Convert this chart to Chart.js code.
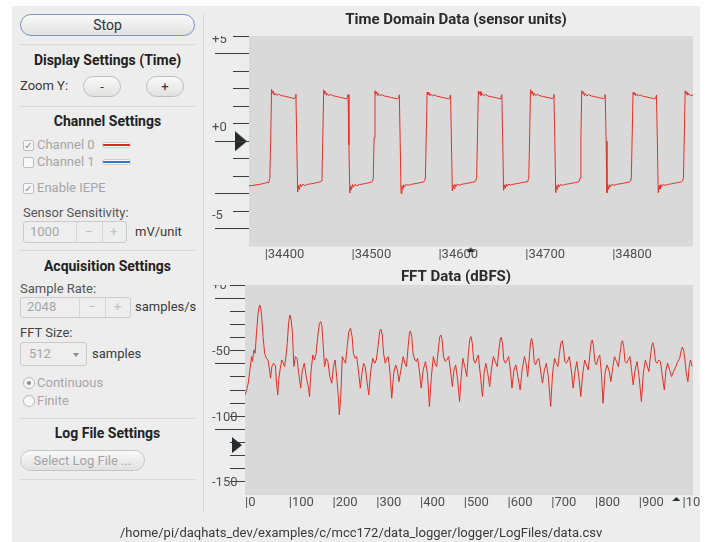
<!DOCTYPE html>
<html><head><meta charset="utf-8">
<script src="https://cdn.jsdelivr.net/npm/chart.js@4.4.0/dist/chart.umd.min.js"></script>
<style>
html,body{margin:0;padding:0;background:#fff;width:711px;height:542px;overflow:hidden;font-family:Roboto,'Noto Sans',sans-serif;}
#win{position:absolute;left:12px;top:6px;width:688px;height:536px;background:#ededed;}
.t{position:absolute;white-space:nowrap;font-size:13px;color:#3a3a3a;line-height:16px;}
.h{position:absolute;left:20px;width:175px;text-align:center;font-weight:bold;font-size:14px;color:#222;line-height:18px;white-space:nowrap;}
.sep{position:absolute;left:20px;width:175px;height:1px;background:#d6d6d6;}
.btn{position:absolute;box-sizing:border-box;border:1px solid #bcbcbc;border-radius:11px;background:linear-gradient(#f9f9f9,#e1e1e1);text-align:center;font-size:13px;color:#333;white-space:nowrap;}
.dis{color:#a6a6a6;}
.cb{position:absolute;box-sizing:border-box;width:11px;height:11px;border:1px solid #bdbdbd;border-radius:2px;background:#f7f7f7;font:10px/9px 'DejaVu Sans';color:#8a8a8a;text-align:center;}
.rd{position:absolute;box-sizing:border-box;width:12px;height:12px;border:1px solid #b8b8b8;border-radius:50%;background:#f7f7f7;}
.sw{position:absolute;box-sizing:border-box;width:29px;height:6px;border:1px solid #cfcfcf;border-radius:3px;}
.spin{position:absolute;box-sizing:border-box;border:1px solid #cbcbcb;border-radius:3px;background:#eeeeee;}
.vl{position:absolute;width:1px;background:#d6d6d6;}
canvas{position:absolute;}
</style></head>
<body>
<div id="win"></div>

<div class="btn" style="left:20px;top:14px;width:175px;height:22px;line-height:20px;font-size:14px;border-color:#7d95bb;">Stop</div>
<div class="sep" style="top:44px"></div>
<div class="h" style="top:51px">Display Settings (Time)</div>
<div class="t" style="left:20px;top:78px">Zoom Y:</div>
<div class="btn" style="left:83px;top:76px;width:38px;height:21px;line-height:19px;">-</div>
<div class="btn" style="left:146px;top:76px;width:38px;height:21px;line-height:19px;">+</div>
<div class="sep" style="top:106px"></div>
<div class="h" style="top:112px">Channel Settings</div>
<div class="cb" style="left:23px;top:140px">✓</div>
<div class="t dis" style="left:37px;top:137px">Channel 0</div>
<div class="sw" style="left:102px;top:142px;background:linear-gradient(#fff 0,#fff 1px,#e0291f 1px,#e0291f 3px,#fff 3px)"></div>
<div class="cb" style="left:23px;top:157px"></div>
<div class="t dis" style="left:37px;top:154px">Channel 1</div>
<div class="sw" style="left:102px;top:159px;background:linear-gradient(#fff 0,#fff 1px,#2c78d4 1px,#2c78d4 3px,#fff 3px)"></div>
<div class="cb" style="left:23px;top:183px">✓</div>
<div class="t dis" style="left:37px;top:180px">Enable IEPE</div>
<div class="t" style="left:23px;top:205px;color:#555">Sensor Sensitivity:</div>
<div class="spin" style="left:23px;top:221px;width:104px;height:22px;"></div>
<div class="vl" style="left:76px;top:222px;height:20px;"></div>
<div class="vl" style="left:102px;top:222px;height:20px;"></div>
<div class="t dis" style="left:30px;top:224px">1000</div>
<div class="t" style="left:85px;top:224px;color:#c0c0c0">−</div>
<div class="t" style="left:110px;top:224px;color:#c0c0c0">+</div>
<div class="t" style="left:135px;top:224px">mV/unit</div>
<div class="sep" style="top:250px"></div>
<div class="h" style="top:257px">Acquisition Settings</div>
<div class="t" style="left:20px;top:281px;color:#555">Sample Rate:</div>
<div class="spin" style="left:20px;top:297px;width:111px;height:21px;"></div>
<div class="vl" style="left:79px;top:298px;height:19px;"></div>
<div class="vl" style="left:105px;top:298px;height:19px;"></div>
<div class="t dis" style="left:27px;top:299px">2048</div>
<div class="t" style="left:88px;top:299px;color:#c0c0c0">−</div>
<div class="t" style="left:114px;top:299px;color:#c0c0c0">+</div>
<div class="t" style="left:135px;top:299px">samples/s</div>
<div class="t" style="left:20px;top:325px;color:#444">FFT Size:</div>
<div class="spin" style="left:20px;top:342px;width:67px;height:24px;"></div>
<div class="t dis" style="left:29px;top:346px">512</div>
<div style="position:absolute;left:73px;top:353px;width:0;height:0;border-left:3px solid transparent;border-right:3px solid transparent;border-top:4px solid #8a8a8a;"></div>
<div class="t" style="left:92px;top:346px">samples</div>
<div class="rd" style="left:23px;top:377px"><div style="position:absolute;left:3px;top:3px;width:4px;height:4px;border-radius:50%;background:#8a8a8a"></div></div>
<div class="t dis" style="left:37px;top:375px">Continuous</div>
<div class="rd" style="left:23px;top:395px"></div>
<div class="t dis" style="left:37px;top:393px">Finite</div>
<div class="sep" style="top:418px"></div>
<div class="h" style="top:424px">Log File Settings</div>
<div class="btn dis" style="left:20px;top:450px;width:125px;height:21px;line-height:19px;border-color:#c6c6c6;color:#a3a3a3">Select Log File ...</div>
<div class="sep" style="top:479px"></div>
<div class="vl" style="left:203px;top:13px;height:498px;"></div>

<canvas id="timeChart" width="488" height="258" style="left:212px;top:6px;"></canvas>
<canvas id="fftChart" width="488" height="278" style="left:212px;top:264px;"></canvas>

<div class="t" style="left:120px;top:525px;font-size:13px;color:#3a3a3a">/home/pi/daqhats_dev/examples/c/mcc172/data_logger/logger/LogFiles/data.csv</div>

<script>
// ---------- Time domain data ----------
const timeTitle = 'Time Domain Data (sensor units)';
const timeRange = [34382, 34893];
const timeYRange = [-7, 5];
const timeXTicks = [34400, 34500, 34600, 34700, 34800];
const timeYTicks = [5, 4, 3, 2, 1, 0, -1, -2, -3, -4, -5, -6];
const timeYLabelled = [5, 0, -5];
const timeLongTicks = [4, -1, -4, -6];
const timeLevel = -1;
const timeCursor = 34637;
const timePoints = [
[34382,-3.55],[34386,-3.52],[34390,-3.49],[34394,-3.46],[34398,-3.42],[34401,-3.38],[34403,-3.34],[34404,-3.36],[34405,-3.27],[34406,-3.12],
[34407,-0.7],
[34408,1.96],[34409,1.74],[34410,1.86],[34411,1.63],[34412,1.75],[34414,1.61],[34416,1.69],[34419,1.6],[34423,1.57],[34427,1.52],[34431,1.47],[34434,1.43],[34435,1.5],[34436,1.68],
[34437,-1.1],
[34438,-3.9],[34439,-3.52],[34440,-3.74],[34441,-3.46],[34442,-3.6],[34444,-3.45],[34446,-3.53],[34449,-3.46],[34453,-3.43],[34457,-3.39],[34461,-3.35],[34464,-3.32],[34465,-3.26],[34466,-3.1],
[34467,-0.6],
[34468,1.93],[34469,1.7],[34470,1.84],[34471,1.62],[34472,1.73],[34474,1.6],[34476,1.67],[34479,1.59],[34483,1.55],[34487,1.5],[34491,1.46],[34494,1.42],[34495,1.49],[34496,1.66],
[34497,-1.2],
[34498,-3.95],[34499,-3.55],[34500,-3.76],[34501,-3.47],[34502,-3.62],[34504,-3.46],[34506,-3.54],[34509,-3.47],[34513,-3.44],[34517,-3.4],[34520,-3.36],[34523,-3.33],[34524,-3.27],[34525,-3.12],
[34526,-0.8],
[34527,1.88],[34528,1.68],[34529,1.82],[34530,1.6],[34531,1.72],[34533,1.59],[34535,1.66],[34538,1.58],[34542,1.54],[34546,1.49],[34550,1.45],[34553,1.41],[34554,1.48],[34555,1.65],
[34556,-1.0],
[34557,-3.98],[34558,-3.54],[34559,-3.75],[34560,-3.48],[34561,-3.6],[34563,-3.45],[34565,-3.52],[34568,-3.46],[34572,-3.43],[34576,-3.39],[34580,-3.35],[34583,-3.32],[34584,-3.25],[34585,-3.1],
[34586,-0.7],
[34587,1.8],[34588,1.66],[34589,1.78],[34590,1.6],[34591,1.7],[34593,1.58],[34595,1.65],[34598,1.57],[34602,1.53],[34606,1.48],[34610,1.44],[34612,1.41],[34613,1.47],[34614,1.64],
[34615,-1.1],
[34616,-3.83],[34617,-3.5],[34618,-3.7],[34619,-3.46],[34620,-3.58],[34622,-3.44],[34624,-3.51],[34627,-3.45],[34631,-3.42],[34635,-3.38],[34639,-3.34],[34642,-3.31],[34643,-3.24],[34644,-3.08],
[34645,-0.6],
[34646,1.86],[34647,1.69],[34648,1.83],[34649,1.61],[34650,1.73],[34652,1.6],[34654,1.67],[34657,1.58],[34661,1.54],[34665,1.49],[34669,1.45],[34671,1.42],[34672,1.48],[34673,1.66],
[34674,-1.0],
[34675,-3.8],[34676,-3.49],[34677,-3.68],[34678,-3.45],[34679,-3.57],[34681,-3.44],[34683,-3.5],[34686,-3.45],[34690,-3.42],[34694,-3.38],[34698,-3.34],[34702,-3.31],[34703,-3.24],[34704,-3.08],
[34705,-0.7],
[34706,1.95],[34707,1.72],[34708,1.85],[34709,1.62],[34710,1.74],[34712,1.6],[34714,1.68],[34717,1.59],[34721,1.55],[34725,1.5],[34729,1.46],[34731,1.42],[34732,1.49],[34733,1.67],
[34734,-1.1],
[34735,-3.93],[34736,-3.53],[34737,-3.74],[34738,-3.47],[34739,-3.6],[34741,-3.45],[34743,-3.52],[34746,-3.46],[34750,-3.43],[34754,-3.39],[34758,-3.35],[34761,-3.32],[34762,-3.26],[34763,-3.1],
[34764,-0.7],
[34765,1.88],[34766,1.7],[34767,1.82],[34768,1.61],[34769,1.72],[34771,1.59],[34773,1.66],[34776,1.58],[34780,1.54],[34784,1.49],[34788,1.45],[34790,1.42],[34791,1.48],[34792,1.66],
[34793,-1.0],
[34794,-3.94],[34795,-3.52],[34796,-3.74],[34797,-3.47],[34798,-3.6],[34800,-3.45],[34802,-3.52],[34805,-3.46],[34809,-3.43],[34813,-3.39],[34817,-3.35],[34820,-3.32],[34821,-3.26],[34822,-3.1],
[34823,-0.7],
[34824,1.78],[34825,1.66],[34826,1.76],[34827,1.6],[34828,1.7],[34830,1.58],[34832,1.65],[34835,1.57],[34839,1.53],[34843,1.48],[34847,1.44],[34849,1.41],[34850,1.47],[34851,1.64],
[34852,-1.1],
[34853,-3.93],[34854,-3.53],[34855,-3.73],[34856,-3.47],[34857,-3.6],[34859,-3.45],[34861,-3.52],[34864,-3.46],[34868,-3.43],[34872,-3.39],[34876,-3.35],[34879,-3.33],[34880,-3.31],[34881,-3.25],[34882,-3.09],
[34883,-0.7],
[34884,1.88],[34885,1.7],[34886,1.82],[34887,1.62],[34888,1.72],[34890,1.6],[34893,1.64]
];

// ---------- FFT data ----------
const fftTitle = 'FFT Data (dBFS)';
const fftRange = [0, 1024];
const fftYRange = [-160, 0];
const fftXTicks = [0, 100, 200, 300, 400, 500, 600, 700, 800, 900, 1000];
const fftYTicks = [0, -10, -20, -30, -40, -50, -60, -70, -80, -90, -100, -110, -120, -130, -140, -150];
const fftYLabelled = [0, -50, -100, -150];
const fftLongTicks = [-10, -60, -110];
const fftLevel = -122;
const fftCursor = 986;
const fftPoints = [
[0,-83.7],[3.7,-79.9],[7.5,-74.8],[11.2,-64.7],[15,-54.5],[17.2,-58.3],[20.2,-49.5],[23.2,-52],[26.2,-36.8],[29.9,-21.6],[32.2,-16.5],[33.7,-15.2],[35.9,-17.8],[38.2,-24.1],[41.2,-39.3],[44.9,-52],[48.7,-55.8],[52.4,-57.1],[56.2,-64.7],[58.4,-71],[61.4,-62.2],[65.1,-59.6],[69.6,-61.6],[72.6,-77.4],[74.9,-83.7],[77.1,-72.3],[80.1,-64.7],[83.9,-57.1],[87.6,-59.6],[90.6,-62.2],[93.6,-54.5],[96.6,-44.4],[99.6,-29.2],[102.6,-22.8],[105.6,-26.6],[108.6,-36.8],[111.6,-62.2],[115.3,-54.5],[119,-55.8],[122.8,-67.2],[127.3,-78.6],[131,-64.7],[135.5,-59.6],[140,-69.8],[144.5,-77.4],[147.5,-85],[150.5,-67.2],[155,-53.3],[158.7,-57.1],[162.5,-52],[166.2,-39.3],[170,-29.2],[173,-27.9],[176,-31.7],[178.9,-46.9],[181.9,-62.2],[185.7,-55.8],[189.4,-58.3],[193.9,-69.8],[198.4,-74.8],[202.2,-62.2],[205.9,-57.1],[209.6,-69.8],[213.4,-85],[215.6,-98.9],[218.6,-87.5],[222.4,-54.5],[226.1,-57.1],[229.9,-59.6],[233.6,-46.9],[237.3,-35.5],[241.1,-33],[244.8,-39.3],[247.8,-52],[251.6,-55.8],[255.3,-54.5],[259.1,-64.7],[263.6,-78.6],[267.3,-67.2],[271,-59.6],[274.8,-62.2],[279.3,-74.8],[283,-83.7],[286.8,-67.2],[292,-55.8],[296.5,-59.6],[300.2,-57.1],[304,-46.9],[307.7,-35.5],[310.7,-33.7],[313.7,-38.1],[316.7,-52],[320.5,-59.6],[324.2,-55.8],[327.2,-54.5],[330.9,-64.7],[335.4,-86.3],[339.9,-67.2],[344.4,-60.9],[348.2,-64.7],[351.9,-73.6],[356.4,-64.7],[361.6,-54.5],[365.4,-59.6],[369.1,-62.2],[372.9,-46.9],[375.9,-36.3],[378.1,-35],[381.1,-39.3],[384.1,-52],[387.8,-57.1],[391.6,-58.3],[394.6,-55.8],[398.3,-64.7],[402.8,-78.6],[407.3,-64.7],[412.6,-58.3],[417,-67.2],[421.5,-92.6],[426,-69.8],[430.5,-54.5],[434.3,-59.6],[438,-62.2],[441.8,-49.5],[444.8,-39.8],[447.8,-38.1],[450.7,-41.9],[453.7,-54.5],[457.5,-58.3],[461.2,-57.1],[465.7,-54.5],[469.5,-64.7],[474,-77.4],[477.7,-64.7],[481.5,-60.9],[486,-72.3],[490.4,-88.8],[494.2,-69.8],[497.9,-55.8],[502.4,-62.2],[506.9,-69.8],[510.6,-52],[513.6,-41.9],[516.6,-39.3],[519.6,-44.4],[522.6,-57.1],[526.4,-59.6],[530.1,-55.8],[533.1,-53.3],[537.6,-67.2],[542.8,-85],[546.6,-67.2],[550.3,-59.6],[554.8,-67.2],[559.3,-77.4],[563.1,-64.7],[567.6,-54.5],[572,-58.3],[576.5,-62.2],[580.3,-49.5],[583.3,-41.3],[585.5,-39.8],[588.5,-44.4],[591.5,-57.1],[595.2,-59.6],[599,-57.1],[602.7,-54.5],[606.5,-64.7],[610.2,-78.6],[614.7,-64.7],[619.2,-60.9],[623.7,-69.8],[628.9,-79.9],[633.4,-64.7],[638.7,-54.5],[642.4,-59.6],[646.2,-69.8],[649.9,-54.5],[652.9,-43.1],[655.1,-40.6],[658.1,-45.7],[661.1,-58.3],[664.1,-60.9],[667.9,-57.1],[671.6,-55.8],[675.4,-64.7],[679.9,-74.8],[684.4,-64.7],[688.8,-59.6],[693.3,-69.8],[698.6,-92.6],[703.1,-67.2],[707.6,-55.8],[711.4,-59.6],[715.1,-62.2],[718.8,-52],[721.8,-44.4],[724.8,-42.4],[727.8,-46.9],[730.8,-58.3],[734.6,-59.6],[738.3,-57.1],[741.3,-54.5],[745.7,-64.7],[750.2,-78.6],[754.7,-64.7],[758.5,-58.3],[763,-69.8],[767.5,-85],[772,-67.2],[776.5,-57.1],[780.2,-60.9],[784.7,-64.7],[788.4,-52],[791.4,-43.1],[793.7,-41.9],[796.7,-46.9],[799.6,-58.3],[803.4,-60.9],[807.1,-55.8],[810.9,-53.3],[814.6,-67.2],[818.4,-90.1],[822.9,-67.2],[827.4,-60.9],[831.9,-64.7],[836.3,-73.6],[840.8,-62.2],[844.6,-54.5],[849.1,-58.3],[853.6,-62.2],[857.3,-52],[860.3,-44.4],[862.6,-42.4],[865.6,-46.9],[868.5,-58.3],[872.3,-59.6],[876,-57.1],[879.8,-54.5],[883.5,-64.7],[887.3,-76.1],[891.7,-64.7],[896.2,-58.3],[900.7,-69.8],[906,-88.8],[910.5,-67.2],[915,-57.1],[918.7,-60.9],[923.2,-66],[927,-53.3],[930,-45.7],[932.2,-43.9],[935.2,-48.2],[938.2,-58.3],[942,-59.6],[945.7,-57.1],[949.5,-58.3],[954,-69.8],[958.4,-79.9],[962.2,-64.7],[965.9,-59.6],[970.4,-64.7],[974.9,-69.8],[979.4,-66],[984.6,-62.2],[989.1,-58.3],[993.6,-55.8],[996.6,-50.7],[999.6,-47.4],[1002.6,-49.5],[1005.6,-57.1],[1008.6,-67.2],[1012.3,-73.6],[1015.3,-62.2],[1018.3,-57.1],[1022,-62.2]
];

// ---------- marker glyphs (drawn by the library as point styles) ----------
function arrowRight(w, h, gap) {
  const c = document.createElement('canvas');
  c.width = 2 * (w + gap); c.height = h;
  const g = c.getContext('2d');
  g.fillStyle = '#252a2a';
  g.beginPath(); g.moveTo(0, 0); g.lineTo(w, h / 2); g.lineTo(0, h); g.closePath(); g.fill();
  return c;
}
function arrowUp(w, h, gap) {
  const c = document.createElement('canvas');
  c.width = w; c.height = 2 * (h + gap);
  const g = c.getContext('2d');
  g.fillStyle = '#252a2a';
  g.beginPath(); g.moveTo(0, c.height); g.lineTo(w / 2, h + 2 * gap); g.lineTo(w, c.height); g.closePath(); g.fill();
  return c;
}

const framePlugin = {
  id: 'frame',
  beforeDraw(chart) {
    const {ctx, chartArea: a, width, height} = chart;
    ctx.save();
    ctx.fillStyle = '#d9d9d9';
    ctx.fillRect(a.left, a.top, a.right - a.left, a.bottom - a.top);
    ctx.restore();
    ctx.save();
    ctx.beginPath();
    ctx.rect(a.left, 0, width - a.left, height);
    ctx.rect(0, a.top, a.left, height - a.top);
    ctx.clip();
  },
  beforeDatasetsDraw(chart) { chart.ctx.restore(); },
  afterDraw(chart, args, opts) {
    const {ctx, chartArea: a} = chart;
    const y = chart.scales.y;
    ctx.save();
    ctx.strokeStyle = '#3c3c3c';
    ctx.lineWidth = 1;
    for (const v of opts.long) {
      const py = Math.round(y.getPixelForValue(v) - 0.5) + 0.5;
      ctx.beginPath(); ctx.moveTo(y.left + 3, py); ctx.lineTo(a.left, py); ctx.stroke();
    }
    ctx.restore();
  }
};

const FONT = 'Roboto';
function buildChart(id, o) {
  return new Chart(document.getElementById(id), {
    type: 'scatter',
    data: {
      datasets: [
        { data: o.points.map(p => ({x: p[0], y: p[1]})), showLine: true, borderColor: 'rgb(226,48,38)', borderWidth: 1, pointRadius: 0, tension: 0 },
        { data: [{x: o.xRange[0], y: o.level}], pointStyle: o.levelImg, pointRadius: 6, clip: false, showLine: false },
        { data: [{x: o.cursor, y: o.yRange[0]}], pointStyle: o.cursorImg, pointRadius: 6, clip: false, showLine: false }
      ]
    },
    options: {
      responsive: false, animation: false, events: [],
      layout: {padding: 0},
      plugins: {
        legend: {display: false}, tooltip: {enabled: false},
        title: {display: true, text: o.title, color: '#2b2b2b',
                font: {family: FONT, size: 15, weight: 'bold', lineHeight: 1},
                padding: {top: o.tPad[0], bottom: o.tPad[1]}},
        frame: {long: o.longTicks}
      },
      scales: {
        x: {
          type: 'linear', min: o.xRange[0], max: o.xRange[1],
          grid: {display: false, drawTicks: false}, border: {display: false},
          afterBuildTicks: s => { s.ticks = o.xTicks.map(v => ({value: v})); },
          afterFit: s => { s.height = o.xH; s.paddingLeft = 0; s.paddingRight = 0; },
          ticks: {align: 'start', autoSkip: false, maxRotation: 0, minRotation: 0, padding: o.xPad,
                  color: '#505050', font: {family: FONT, size: 13}, callback: v => '|' + v}
        },
        y: {
          type: 'linear', min: o.yRange[0], max: o.yRange[1],
          grid: {drawOnChartArea: false, drawTicks: true, tickLength: o.tickLen, tickColor: '#3c3c3c', tickWidth: 1},
          border: {display: false},
          afterBuildTicks: s => { s.ticks = o.yTicks.map(v => ({value: v})); },
          afterFit: s => { s.width = o.yW; s.paddingTop = 0; s.paddingBottom = 0; },
          ticks: {crossAlign: 'far', autoSkip: false, padding: 0, labelOffset: o.labelOff,
                  color: '#505050', font: {family: FONT, size: 13},
                  callback: v => o.yLabelled.includes(v) ? (v >= 0 ? '+' + v : String(v)) : ''}
        }
      }
    },
    plugins: [framePlugin]
  });
}

buildChart('timeChart', {
  title: timeTitle, points: timePoints, xRange: timeRange, yRange: timeYRange,
  xTicks: timeXTicks, yTicks: timeYTicks, yLabelled: timeYLabelled, longTicks: timeLongTicks,
  level: timeLevel, cursor: timeCursor,
  levelImg: arrowRight(12, 20, 2), cursorImg: arrowUp(8, 4, 1),
  tPad: [6.5, 8.5], xH: 17.5, xPad: 0, yW: 37, tickLen: 16, labelOff: 4
});
buildChart('fftChart', {
  title: fftTitle, points: fftPoints, xRange: fftRange, yRange: fftYRange,
  xTicks: fftXTicks, yTicks: fftYTicks, yLabelled: fftYLabelled, longTicks: fftLongTicks,
  level: fftLevel, cursor: fftCursor,
  levelImg: arrowRight(10, 16, 3), cursorImg: arrowUp(8, 4, 2),
  tPad: [5.5, 0.5], xH: 47, xPad: 0, yW: 33, tickLen: 15, labelOff: 1
});
</script>
</body></html>
